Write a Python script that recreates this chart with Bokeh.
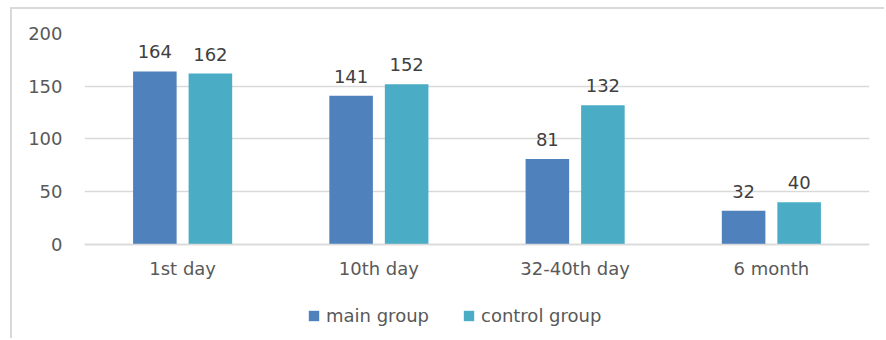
from bokeh.plotting import figure
from bokeh.models import (ColumnDataSource, FactorRange, Range1d, LabelSet,
                          Legend, LegendItem, FixedTicker)
from bokeh.core.properties import value
from bokeh.transform import dodge
from bokeh.embed import file_html
from bokeh.resources import INLINE

# Data
periods = ["1st day", "10th day", "32-40th day", "6 month"]
main_group = [164, 141, 81, 32]
control_group = [162, 152, 132, 40]
y_ticks = [0, 50, 100, 150, 200]

FONT = "DejaVu Sans"
FONT_SIZE = "18px"
TEXT = "#595959"
GRID = "#d9d9d9"
MAIN_COLOR = "#4f81bd"
CTRL_COLOR = "#4bacc6"

source = ColumnDataSource(data=dict(
    period=periods,
    main=main_group,
    control=control_group,
    main_lbl=[str(v) for v in main_group],
    control_lbl=[str(v) for v in control_group],
))

# The plot frame reaches down to the bottom edge so that the category
# labels and the legend can sit inside it, under the zero line.
p = figure(
    width=874, height=331,
    x_range=FactorRange(factors=periods, range_padding=0),
    y_range=Range1d(-91, 200),
    output_backend="svg", toolbar_location=None,
    min_border_left=72, min_border_right=17,
    min_border_top=24, min_border_bottom=0,
)
# Offset the chart and draw a light frame on its left and top edges
p.styles = {"position": "relative", "left": "12px", "top": "9px",
            "box-shadow": "-2px -2px 0 0 #d9d9d9"}
p.background_fill_color = "white"
p.border_fill_color = "white"
p.outline_line_color = None

offset = 0.1415
bar_w = 0.222

r_main = p.vbar(x=dodge("period", -offset, range=p.x_range), top="main", bottom=0,
                width=bar_w, source=source, fill_color=MAIN_COLOR, line_color=None)
r_ctrl = p.vbar(x=dodge("period", offset, range=p.x_range), top="control", bottom=0,
                width=bar_w, source=source, fill_color=CTRL_COLOR, line_color=None)

# Value labels above the bars
for col, lbl, dx in (("main", "main_lbl", -offset), ("control", "control_lbl", offset)):
    p.add_layout(LabelSet(
        x=dodge("period", dx, range=p.x_range), y=col, text=lbl, source=source,
        y_offset=13, text_align="center", text_baseline="alphabetic",
        text_font=value(FONT), text_font_size=value(FONT_SIZE), text_color="#404040",
    ))

# Axes
p.yaxis.ticker = FixedTicker(ticks=y_ticks)
p.yaxis.axis_line_color = None
p.yaxis.major_tick_line_color = None
p.yaxis.minor_tick_line_color = None
p.yaxis.major_label_standoff = 16
p.yaxis.major_label_text_font = FONT
p.yaxis.major_label_text_font_size = FONT_SIZE
p.yaxis.major_label_text_color = TEXT

p.xaxis.fixed_location = 0
p.xaxis.axis_line_color = GRID
p.xaxis.axis_line_width = 1.5
p.xaxis.major_tick_line_color = None
p.xaxis.minor_tick_line_color = None
p.xaxis.major_label_standoff = 8
p.xaxis.major_label_text_font = FONT
p.xaxis.major_label_text_font_size = FONT_SIZE
p.xaxis.major_label_text_color = TEXT

p.xgrid.grid_line_color = None
p.ygrid.ticker = FixedTicker(ticks=y_ticks)
p.ygrid.grid_line_color = GRID
p.ygrid.grid_line_width = 1.5

# Legend beneath the category labels
legend = Legend(
    items=[LegendItem(label="main group", renderers=[r_main]),
           LegendItem(label="control group", renderers=[r_ctrl])],
    orientation="horizontal", location=(223, 14),
    glyph_width=13, glyph_height=13, label_standoff=6, spacing=33,
    padding=0, margin=0, border_line_color=None, background_fill_alpha=0,
    label_text_font=FONT, label_text_font_size=FONT_SIZE, label_text_color=TEXT,
)
p.add_layout(legend, "center")

open("out.html", "w").write(file_html(p, INLINE))
